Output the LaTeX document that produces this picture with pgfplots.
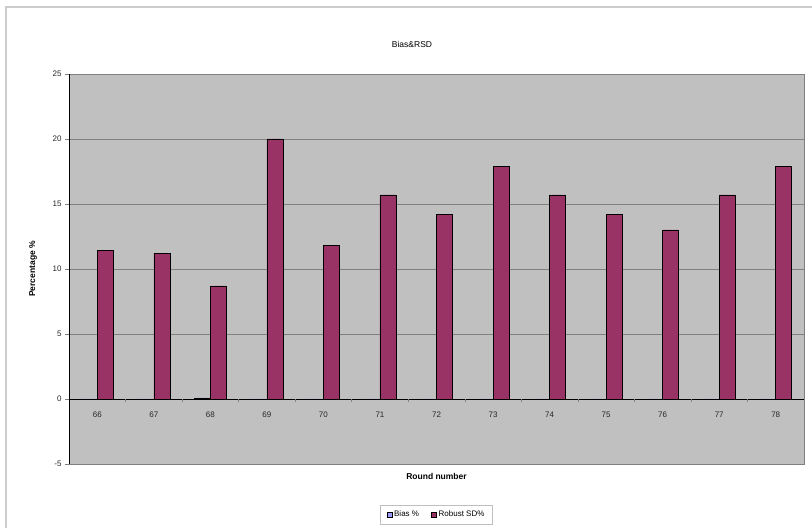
\documentclass[border=0pt]{standalone}
\usepackage{pgfplots}
\pgfplotsset{compat=1.18}
\usepackage{fontspec}
\setmainfont{Liberation Sans}
\definecolor{plotgray}{HTML}{C0C0C0}
\definecolor{gridgray}{HTML}{808080}
\definecolor{biascol}{HTML}{9999FF}
\definecolor{robcol}{HTML}{993366}
\pgfplotstableread{
x lab bias robust
0 66 0 11.4
1 67 0 11.2
2 68 0.08 8.7
3 69 0 20.0
4 70 0 11.8
5 71 0 15.7
6 72 0 14.2
7 73 0 17.9
8 74 0 15.7
9 75 0 14.2
10 76 0 13.0
11 77 0 15.7
12 78 0 17.9
}\data
\begin{document}
\begin{tikzpicture}
\useasboundingbox (0bp,0bp) rectangle (812bp,528bp);
\draw[gray!40, line width=1.2bp] (6bp,0bp) -- (6bp,521bp) -- (812bp,521bp);
\node[font=\fontsize{8.5bp}{10bp}\selectfont] at (412bp,484bp) {Bias\&RSD};
\begin{axis}[
  at={(69bp,64bp)}, anchor=south west,
  scale only axis, width=735bp, height=390bp,
  ybar=0pt, bar width=16bp,
  xmin=-0.5, xmax=12.5, ymin=-5, ymax=25,
  ytick={-5,0,...,25},
  yticklabels={-5,0,5,10,15,20,25},
  ytick pos=left,
  xtick=data,
  xticklabels={66,67,68,69,70,71,72,73,74,75,76,77,78},
  xticklabel style={yshift=60bp},
  major x tick style={draw=none},
  axis background/.style={fill=plotgray},
  axis line style={draw=gridgray, line width=0.8bp},
  ymajorgrids, grid style={gridgray, line width=0.8bp},
  ytick style={gridgray},
  tick align=outside, major tick length=4bp,
  ticklabel style={font=\fontsize{8bp}{9bp}\selectfont, text=black!85},
  /pgf/number format/assume math mode=true,
  ylabel={\bfseries Percentage \%},
  ylabel style={font=\fontsize{8.5bp}{10bp}\selectfont, at={(axis description cs:-0.049,0.5)}, anchor=center},
  xlabel={\bfseries Round number},
  xlabel style={font=\fontsize{8.5bp}{10bp}\selectfont, yshift=-2bp},
  legend style={at={(0.5,-0.105)}, anchor=north, font=\fontsize{8bp}{9bp}\selectfont, draw=gray!50, legend columns=2, /tikz/every even column/.append style={column sep=10bp}, inner xsep=6bp, inner ysep=4bp},
  legend image code/.code={\draw[#1, draw=black] (0bp,-2.5bp) rectangle (5bp,2.5bp);},
  clip=false,
]
\addplot[fill=biascol, draw=black, line width=0.6bp] table[x=x,y=bias]{\data};
\addplot[fill=robcol, draw=black, line width=0.6bp] table[x=x,y=robust]{\data};
\legend{Bias \%, Robust SD\%}
\draw[black, line width=0.8bp] (axis cs:-0.5,0) -- (axis cs:12.5,0);
\draw[black, line width=0.8bp] (axis cs:-0.5,-5) -- (axis cs:-0.5,25);
\pgfplotsinvokeforeach{0.5,1.5,2.5,3.5,4.5,5.5,6.5,7.5,8.5,9.5,10.5,11.5}{\draw[gridgray] (axis cs:#1,0) -- (axis cs:#1,-0.23);}
\end{axis}
\end{tikzpicture}
\end{document}
